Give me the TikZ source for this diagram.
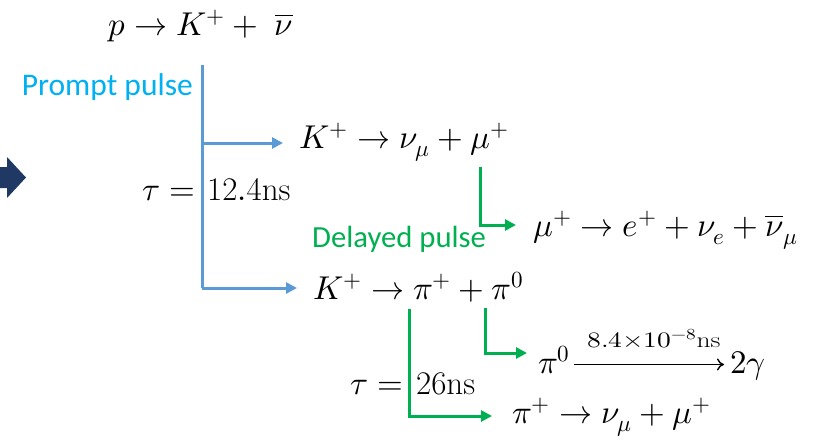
\documentclass[tikz,border=0pt]{standalone}
\usepackage{amsmath}
\usepackage{graphicx}
\usepackage{fontspec}
\usepackage{unicode-math}
\newfontfamily\calibri{Carlito}
\usetikzlibrary{arrows.meta,calc}
\definecolor{pblue}{RGB}{91,155,213}
\definecolor{pcyan}{RGB}{0,176,240}
\definecolor{pgreen}{RGB}{0,176,80}
\definecolor{navy}{RGB}{31,56,100}
\tikzset{
  eq/.style={inner sep=0pt, font=\fontsize{33}{38}\selectfont},
  small eq/.style={inner sep=0pt, font=\fontsize{22}{26}\selectfont},
  lbl/.style={inner sep=0pt, font=\calibri\fontsize{31.5}{36}\selectfont},
  bline/.style={draw=pblue, line width=3pt},
  gline/.style={draw=pgreen, line width=3pt},
  tipb/.style={-{Triangle[length=11pt,width=11pt]}},
  matharrow/.style={draw=black, line width=1.4pt, -{To[length=7pt,width=12pt]}},
}
\begin{document}
\begin{tikzpicture}[x=1pt,y=-1pt]
\useasboundingbox (0,0) rectangle (827,439);
% left dark arrow
\fill[navy] (0,167) -- (7,167) -- (7,157) -- (26,177.5) -- (7,198) -- (7,188) -- (0,188) -- cycle;

\node[eq, anchor=base west] (top) at (108,35) {$p \rightarrow K^+ + \;\overline{\nu}$};
\node[lbl, text=pcyan, anchor=base east] (prompt) at (193,95) {Prompt pulse};
\node[eq, anchor=base west] (Ka) at (299,148) {$K^+ \rightarrow \nu_\mu + \mu^+$};
\node[eq, anchor=base east] (t1a) at (195,200) {$\tau =$};
\node[eq, anchor=base west] (t1b) at (207,200) {$\mathrm{12.4ns}$};
\node[eq, anchor=base west] (Kb) at (313,299) {$K^+ \rightarrow \pi^+ + \pi^0$};
\node[eq, anchor=base west] (mu) at (533,236) {$\mu^+ \rightarrow e^+ + \nu_e + \overline{\nu}_\mu$};
\node[lbl, text=pgreen, anchor=base west, font=\calibri\fontsize{30.7}{34}\selectfont] (delayed) at (312,247) {Delayed pulse};
\node[eq, anchor=base west] (pi0) at (538,373) {$\pi^0$};
\node[eq, anchor=base west] (gam) at (730,373) {$2\gamma$};
\node[small eq, anchor=base] (life) at (654,347) {\scalebox{1.25}[1]{$8.4{\times}10^{-8}\mathrm{ns}$}};
\draw[matharrow] ($(pi0.base east)+(4,-8.5)$) -- ($(gam.base west)+(-6,-8.5)$);
\node[eq, anchor=base east] (t2a) at (403,394) {$\tau =$};
\node[eq, anchor=base west] (t2b) at (416,394) {$\mathrm{26ns}$};
\node[eq, anchor=base west] (pip) at (512,423) {$\pi^+ \rightarrow \nu_\mu + \mu^+$};

% blue connectors
\coordinate (bt) at (202,65);
\coordinate (bm) at (202,143);
\coordinate (bb) at (202,288);
\coordinate (bmE) at (283,143);
\coordinate (bbE) at (297,288);
\draw[bline] (bt) -- (bb);
\draw[bline, tipb] (bm) -- (bmE);
\draw[bline, tipb] (bb) -- (bbE);

% green connectors
\coordinate (g1) at (480,167);
\coordinate (g1E) at (516,225);
\draw[gline, tipb] (g1) |- (g1E);
\coordinate (g2) at (485,308);
\coordinate (g2E) at (527,353);
\draw[gline, tipb] (g2) |- (g2E);
\coordinate (g3) at (409,309);
\coordinate (g3E) at (492,416);
\draw[gline, tipb] (g3) |- (g3E);
\end{tikzpicture}
\end{document}
